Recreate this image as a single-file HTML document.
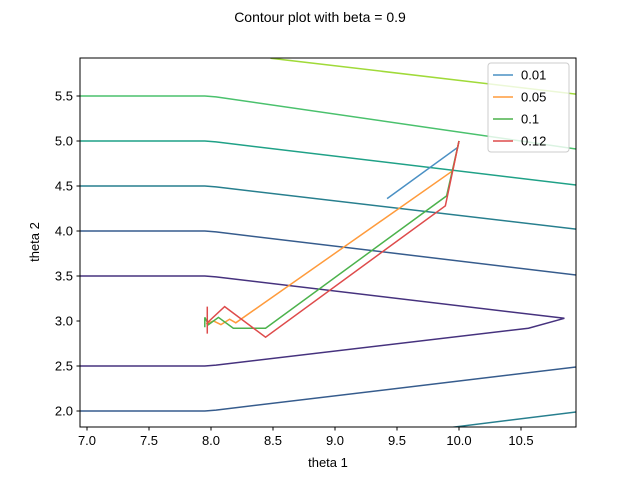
<!DOCTYPE html>
<html><head><meta charset="utf-8"><style>
body{margin:0;background:#fff;}
svg text{font-family:"Liberation Sans","DejaVu Sans",sans-serif;}
</style></head><body>
<svg id="c" width="640" height="480" xmlns="http://www.w3.org/2000/svg">
<rect width="640" height="480" fill="#fff"/>
<text x="320" y="22" font-size="14" text-anchor="middle">Contour plot with beta = 0.9</text>
<defs><clipPath id="clip"><rect x="80" y="58" width="496" height="369"/></clipPath></defs>
<g id="contours" clip-path="url(#clip)"></g>
<g id="paths" clip-path="url(#clip)"></g>
<rect x="80" y="58" width="496" height="369" fill="none" stroke="#000" stroke-width="1"/>
<g id="axes"></g>
<text x="328" y="467" font-size="13" text-anchor="middle">theta 1</text>
<text x="39" y="242" font-size="13" text-anchor="middle" transform="rotate(-90 39 242)">theta 2</text>
<g id="legend">
<rect x="488" y="63" width="81" height="89" rx="3" fill="#fff" fill-opacity="0.8" stroke="#ccc"/>
</g>
</svg>
<script>
const xTicks=[7.0,7.5,8.0,8.5,9.0,9.5,10.0,10.5];
const yTicks=[2.0,2.5,3.0,3.5,4.0,4.5,5.0,5.5];
const seriesLabels=["0.01","0.05","0.1","0.12"];
const seriesColors=["#4a90c4","#ff9b3c","#4cb24c","#de4b4b"];
const s001X=[10,9.99,9.42];
const s001Y=[5,4.93,4.36];
const s005X=[10,9.95,8.2,8.15,8.08,8.02,7.96];
const s005Y=[5,4.67,2.98,3.02,2.96,3.0,2.97];
const s01X=[10,9.9,8.44,8.18,8.06,7.98,7.95,7.95];
const s01Y=[5,4.39,2.92,2.92,3.04,2.96,3.04,2.93];
const s012X=[10,9.89,8.44,8.11,7.97,7.97,7.97];
const s012Y=[5,4.28,2.82,3.16,2.98,3.16,2.86];
const contourColors=["#a0da39","#4ac16d","#1fa187","#277f8e","#365c8d","#46327e","#365c8d","#277f8e"];
const contourX=[[8.48,10.95],[6.9,7.95,8.04,10.95],[6.9,7.95,8.04,10.95],[6.9,7.95,8.04,10.95],[6.9,7.95,8.04,10.95],[6.9,7.95,8.04,10.85,10.56,8.04,7.95,6.9],[6.9,7.95,8.04,10.95],[9.95,10.95]];
const contourY=[[5.92,5.52],[5.5,5.5,5.49,4.91],[5.0,5.0,4.99,4.51],[4.5,4.5,4.49,4.02],[4.0,4.0,3.99,3.51],[3.5,3.5,3.49,3.03,2.92,2.51,2.5,2.5],[2.0,2.0,2.01,2.49],[1.82,1.99]];
const sx=v=>87+(v-7)*124, sy=v=>411-(v-2)*90;
const NS="http://www.w3.org/2000/svg";
function mk(t,a,p){const e=document.createElementNS(NS,t);for(const k in a)e.setAttribute(k,a[k]);p.appendChild(e);return e;}
const cg=document.getElementById('contours');
contourX.forEach((xs,i)=>{
 const pts=xs.map((x,j)=>sx(x)+","+sy(contourY[i][j])).join(" ");
 const e=mk('polyline',{points:pts,fill:'none',stroke:contourColors[i],'stroke-width':1.5},cg);
 
 
});
const sX=[s001X,s005X,s01X,s012X], sY=[s001Y,s005Y,s01Y,s012Y];
const pg=document.getElementById('paths');
sX.forEach((xs,i)=>{
 const pts=xs.map((x,j)=>sx(x)+","+sy(sY[i][j])).join(" ");
 const e=mk('polyline',{points:pts,fill:'none',stroke:seriesColors[i],'stroke-width':1.5},pg);
 
 
});
const ax=document.getElementById('axes');
xTicks.forEach(v=>{
 const x=sx(v);
 mk('line',{x1:x,x2:x,y1:427,y2:430.5,stroke:'#000'},ax);
 const t=mk('text',{x:x,y:445,'font-size':13,'text-anchor':'middle'},ax);t.textContent=v.toFixed(1);
 
 
});
yTicks.forEach(v=>{
 const y=sy(v);
 mk('line',{x1:76.5,x2:80,y1:y,y2:y,stroke:'#000'},ax);
 const t=mk('text',{x:73,y:y+4.5,'font-size':13,'text-anchor':'end'},ax);t.textContent=v.toFixed(1);
 
 
});
const lg=document.getElementById('legend');
seriesLabels.forEach((l,i)=>{
 const y=75+i*22;
 mk('line',{x1:493,x2:513,y1:y,y2:y,stroke:seriesColors[i],'stroke-width':1.5},lg);
 const t=mk('text',{x:521,y:y+4.5,'font-size':13},lg);t.textContent=l;
 
 
});
</script>
</body></html>
